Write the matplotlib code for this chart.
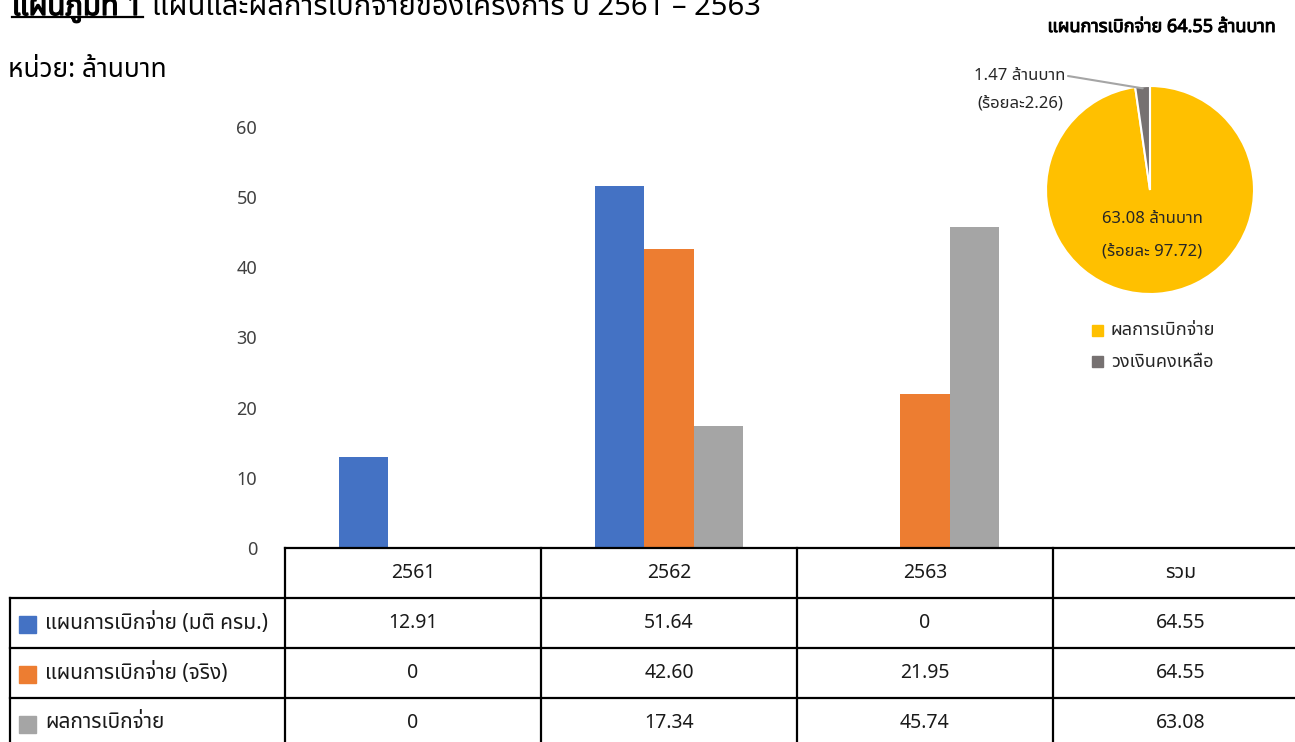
import matplotlib
matplotlib.use("Agg")
import matplotlib.pyplot as plt
import matplotlib.patheffects as pe
from matplotlib.lines import Line2D
from matplotlib.patches import Rectangle
from matplotlib.transforms import blended_transform_factory
import numpy as np

plt.rcParams['font.family'] = ['Noto Sans Thai', 'Noto Sans', 'DejaVu Sans']

# ---------------- data ----------------
categories = ["2561", "2562", "2563", "รวม"]
series_names = ["แผนการเบิกจ่าย (มติ ครม.)", "แผนการเบิกจ่าย (จริง)", "ผลการเบิกจ่าย"]
plan_cabinet = [12.91, 51.64, 0, 64.55]
plan_actual = [0, 42.60, 21.95, 64.55]
disbursed = [0, 17.34, 45.74, 63.08]
table_text = [
    ["12.91", "51.64", "0", "64.55"],
    ["0", "42.60", "21.95", "64.55"],
    ["0", "17.34", "45.74", "63.08"],
]
bar_categories = 3  # the total column has no bars
yticks = [0, 10, 20, 30, 40, 50, 60]

pie_labels = ["ผลการเบิกจ่าย", "วงเงินคงเหลือ"]
pie_values = [63.08, 1.47]
pie_pcts = ["97.72", "2.26"]
pie_title = "แผนการเบิกจ่าย 64.55 ล้านบาท"

title_bold = "แผนภูมิที่ 1"
title_rest = "แผนและผลการเบิกจ่ายของโครงการ ปี 2561 – 2563"
unit_text = "หน่วย: ล้านบาท"

# ---------------- styles ----------------
series_colors = ["#4472C4", "#ED7D31", "#A5A5A5"]
pie_colors = ["#FFC000", "#767171"]
txt = "#1a1a1a"

W, H = 1295, 742
fig = plt.figure(figsize=(W / 100, H / 100), dpi=100)


def fx(px):
    return px / W


def fy(py):
    return 1 - py / H


def bold(c="black", w=0.9):
    return [pe.withStroke(linewidth=w, foreground=c)]


# ---------------- bar chart ----------------
ax_left, ax_right = 285, 1309
ax_top, ax_bottom = 127, 548
ax = fig.add_axes([fx(ax_left), fy(ax_bottom), fx(ax_right - ax_left), (ax_bottom - ax_top) / H])
ax.set_xlim(-0.5, len(categories) - 0.5)
ax.set_ylim(0, 60)
bw = 0.192
x = np.arange(bar_categories)
for i, (vals, col) in enumerate(zip([plan_cabinet, plan_actual, disbursed], series_colors)):
    ax.bar(x + (i - 1) * bw, vals[:bar_categories], width=bw, color=col, edgecolor="none", zorder=2)
ax.set_yticks(yticks)
ax.set_yticklabels([str(t) for t in yticks], fontsize=13, color="#404040")
ax.tick_params(axis="y", length=0, pad=20)
ax.set_xticks([])
for s in ax.spines.values():
    s.set_visible(False)
ax.patch.set_alpha(0)

# ---------------- data table ----------------
lw = 1.6
row_edges = [548, 598, 648, 698, 748]
trans_col = blended_transform_factory(ax.transData, fig.transFigure)
col_edges = [c - 0.5 for c in range(len(categories) + 1)]
label_left = 10

fig.add_artist(Line2D([col_edges[0], col_edges[-1]], [fy(row_edges[0])] * 2,
                      transform=trans_col, color="black", lw=lw))
for r in row_edges[1:]:
    fig.add_artist(Line2D([fx(label_left), 1], [fy(r)] * 2, color="black", lw=lw,
                          transform=fig.transFigure))
for c in col_edges:
    fig.add_artist(Line2D([c, c], [fy(row_edges[0]), fy(row_edges[-1])],
                          transform=trans_col, color="black", lw=lw))
fig.add_artist(Line2D([fx(label_left)] * 2, [fy(row_edges[1]), fy(row_edges[-1])],
                      color="black", lw=lw, transform=fig.transFigure))

for c, cat in enumerate(categories):
    fig.text(c, fy((row_edges[0] + row_edges[1]) / 2), cat, transform=trans_col,
             ha="center", va="center", fontsize=14, color=txt)
for r, (name, col) in enumerate(zip(series_names, series_colors)):
    yc = (row_edges[r + 1] + row_edges[r + 2]) / 2
    fig.add_artist(Rectangle((fx(19), fy(yc + 10)), fx(17), 17 / H, color=col,
                             transform=fig.transFigure))
    fig.text(fx(45), fy(yc), name, ha="left", va="center", fontsize=15, color=txt)
    for c in range(len(categories)):
        fig.text(c, fy(yc), table_text[r][c], transform=trans_col,
                 ha="center", va="center", fontsize=14, color=txt)

# ---------------- titles ----------------
t1 = fig.text(fx(12), fy(15), title_bold, ha="left", va="baseline", fontsize=21,
              color="black", path_effects=bold("black", 1.0))
fig.canvas.draw()
bb = t1.get_window_extent()
fig.add_artist(Line2D([bb.x0 / W, bb.x1 / W], [fy(17)] * 2, color="black", lw=1.6,
                      transform=fig.transFigure))
fig.text(bb.x1 / W + fx(9), fy(15), title_rest, ha="left", va="baseline", fontsize=21,
         color="black")
fig.text(fx(8), fy(70), unit_text, ha="left", va="center", fontsize=19, color="black")

# ---------------- pie ----------------
pcx, pcy, pr = 1150, 190, 104
pax = fig.add_axes([fx(pcx - pr), fy(pcy + pr), fx(2 * pr), 2 * pr / H])
wedges, _ = pax.pie(pie_values, colors=pie_colors, startangle=90, counterclock=False,
                    wedgeprops=dict(edgecolor="white", linewidth=1.5))
pax.set_xlim(-1, 1)
pax.set_ylim(-1, 1)
pax.set_aspect("equal")

fig.text(fx(1277), fy(27), pie_title, ha="right", va="center", fontsize=13,
         color="black", path_effects=bold("black", 0.7))

pax.text(0.02, -0.28, f"{pie_values[0]:.2f} ล้านบาท", ha="center", va="center",
         fontsize=12, color="#262626")
pax.text(0.02, -0.59, f"(ร้อยละ {pie_pcts[0]})", ha="center", va="center",
         fontsize=12, color="#262626")

w = wedges[1]
ang = np.deg2rad((w.theta1 + w.theta2) / 2)
pax.annotate("", xy=(0.98 * np.cos(ang), 0.98 * np.sin(ang)),
             xytext=(fx(1068), fy(76)), textcoords="figure fraction",
             arrowprops=dict(arrowstyle="-", color="#A5A5A5", lw=1.5,
                             shrinkA=0, shrinkB=0), annotation_clip=False)
fig.text(fx(1020), fy(76), f"{pie_values[1]:.2f} ล้านบาท", ha="center", va="center",
         fontsize=12, color="#262626")
fig.text(fx(1020), fy(104), f"(ร้อยละ{pie_pcts[1]})", ha="center", va="center",
         fontsize=12, color="#262626")

for i, (lab, col) in enumerate(zip(pie_labels, pie_colors)):
    yc = 330 + i * 32
    fig.add_artist(Rectangle((fx(1092), fy(yc + 5.5)), fx(11), 11 / H, color=col,
                             transform=fig.transFigure))
    fig.text(fx(1111), fy(yc), lab, ha="left", va="center", fontsize=13, color="#262626")

fig.savefig("out.png", dpi=100)
